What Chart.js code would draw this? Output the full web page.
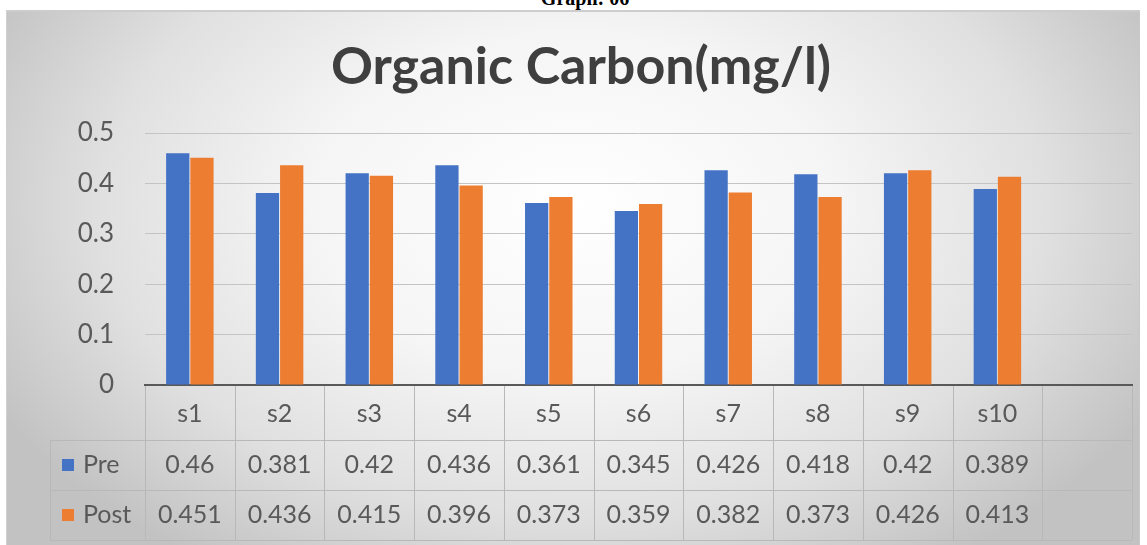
<!DOCTYPE html>
<html>
<head>
<meta charset="utf-8">
<script src="https://cdn.jsdelivr.net/npm/chart.js@4"></script>
<style>
  html,body{margin:0;padding:0;background:#fff;width:1147px;height:545px;overflow:hidden;}
  #frame{position:absolute;left:6px;top:10px;width:1134px;height:540px;box-sizing:border-box;
    border-top:2px solid #cdcdcd;border-left:1px solid #d0d0d0;border-right:1px solid #c8c8c8;
    background:radial-gradient(ellipse 58% 80% at 50% 36%, #ffffff 0%, #f5f5f5 40%, #e0e0e0 72%, #c2c2c2 100%);}
  #cap{position:absolute;left:0;width:1170px;top:-13px;text-align:center;font:bold 20px "Liberation Serif",serif;color:#000;}
  canvas{position:absolute;left:0;top:0;}
</style>
</head>
<body>
<div id="frame"></div>
<div id="cap">Graph: 06</div>
<canvas id="c" width="1147" height="545"></canvas>
<script>
const categories = ['s1','s2','s3','s4','s5','s6','s7','s8','s9','s10',''];
const seriesNames = ['Pre','Post'];
const preValues  = [0.46, 0.381, 0.42, 0.436, 0.361, 0.345, 0.426, 0.418, 0.42, 0.389, null];
const postValues = [0.451, 0.436, 0.415, 0.396, 0.373, 0.359, 0.382, 0.373, 0.426, 0.413, null];
const preLabels  = ['0.46','0.381','0.42','0.436','0.361','0.345','0.426','0.418','0.42','0.389',''];
const postLabels = ['0.451','0.436','0.415','0.396','0.373','0.359','0.382','0.373','0.426','0.413',''];
const titleText = 'Organic Carbon(mg/l)';
const colors = ['#4472C4','#ED7D31'];

const FONT = 'Lato, "Open Sans", sans-serif';
const TEXT = '#595959';

const tablePlugin = {
  id: 'dataTable',
  afterDraw(chart) {
    const ctx = chart.ctx;
    const xs = chart.scales.x;
    const top = chart.chartArea.bottom;
    const rows = [top, top + 55, top + 105, top + 155];
    const n = categories.length;
    const bounds = [xs.left];
    for (let i = 1; i < n; i++) bounds.push((xs.getPixelForTick(i - 1) + xs.getPixelForTick(i)) / 2);
    bounds.push(xs.right);
    const legLeft = 50;
    ctx.save();
    ctx.strokeStyle = '#b8b8b8';
    ctx.lineWidth = 1;
    ctx.beginPath();
    ctx.moveTo(legLeft, rows[1] + 0.5); ctx.lineTo(xs.right, rows[1] + 0.5);
    ctx.moveTo(legLeft, rows[2] + 0.5); ctx.lineTo(xs.right, rows[2] + 0.5);
    ctx.moveTo(legLeft, rows[3] + 0.5); ctx.lineTo(xs.right, rows[3] + 0.5);
    bounds.forEach(b => { const bx = Math.round(b) + 0.5; ctx.moveTo(bx, rows[0] + 1); ctx.lineTo(bx, rows[3]); });
    ctx.moveTo(legLeft + 0.5, rows[1]); ctx.lineTo(legLeft + 0.5, rows[3]);
    ctx.stroke();

    ctx.fillStyle = TEXT;
    ctx.font = '25px ' + FONT;
    ctx.textAlign = 'center';
    ctx.textBaseline = 'middle';
    const rowMid = [ (rows[0] + rows[1]) / 2 + 1, (rows[1] + rows[2]) / 2, (rows[2] + rows[3]) / 2 ];
    for (let i = 0; i < n; i++) {
      const cx = xs.getPixelForTick(i);
      ctx.fillText(categories[i], cx, rowMid[0]);
      ctx.fillText(preLabels[i], cx, rowMid[1]);
      ctx.fillText(postLabels[i], cx, rowMid[2]);
    }
    [1, 2].forEach((r, k) => {
      ctx.fillStyle = colors[k];
      ctx.fillRect(62, rowMid[r] - 6, 12, 12);
      ctx.fillStyle = TEXT;
      ctx.textAlign = 'left';
      ctx.fillText(seriesNames[k], 83, rowMid[r]);
    });
    ctx.restore();
  }
};

new Chart(document.getElementById('c'), {
  type: 'bar',
  data: {
    labels: categories,
    datasets: [
      { label: seriesNames[0], data: preValues, backgroundColor: colors[0], barPercentage: 0.96, categoryPercentage: 0.54 },
      { label: seriesNames[1], data: postValues, backgroundColor: colors[1], barPercentage: 0.96, categoryPercentage: 0.54 }
    ]
  },
  options: {
    responsive: false,
    devicePixelRatio: 1,
    animation: false,
    layout: { padding: { top: 10, left: 30, right: 15, bottom: 160 } },
    plugins: {
      legend: { display: false },
      tooltip: { enabled: false },
      title: {
        display: true, text: titleText, color: '#3f3f3f',
        font: { family: FONT, size: 52, weight: 'bold', lineHeight: 1.2 },
        padding: { top: 26, bottom: 34.6 }
      }
    },
    scales: {
      x: {
        offset: true,
        grid: { display: false },
        ticks: { display: false },
        border: { display: true, color: '#595959', width: 2 },
        afterFit: s => { s.height = 0; }
      },
      y: {
        min: 0, max: 0.5,
        ticks: { stepSize: 0.1, color: TEXT, font: { family: FONT, size: 26 }, padding: 31 },
        grid: { color: '#c4c4c4', drawTicks: false, lineWidth: 1 },
        border: { display: false },
        afterFit: s => { s.width = 115; }
      }
    }
  },
  plugins: [tablePlugin]
});
</script>
</body>
</html>
